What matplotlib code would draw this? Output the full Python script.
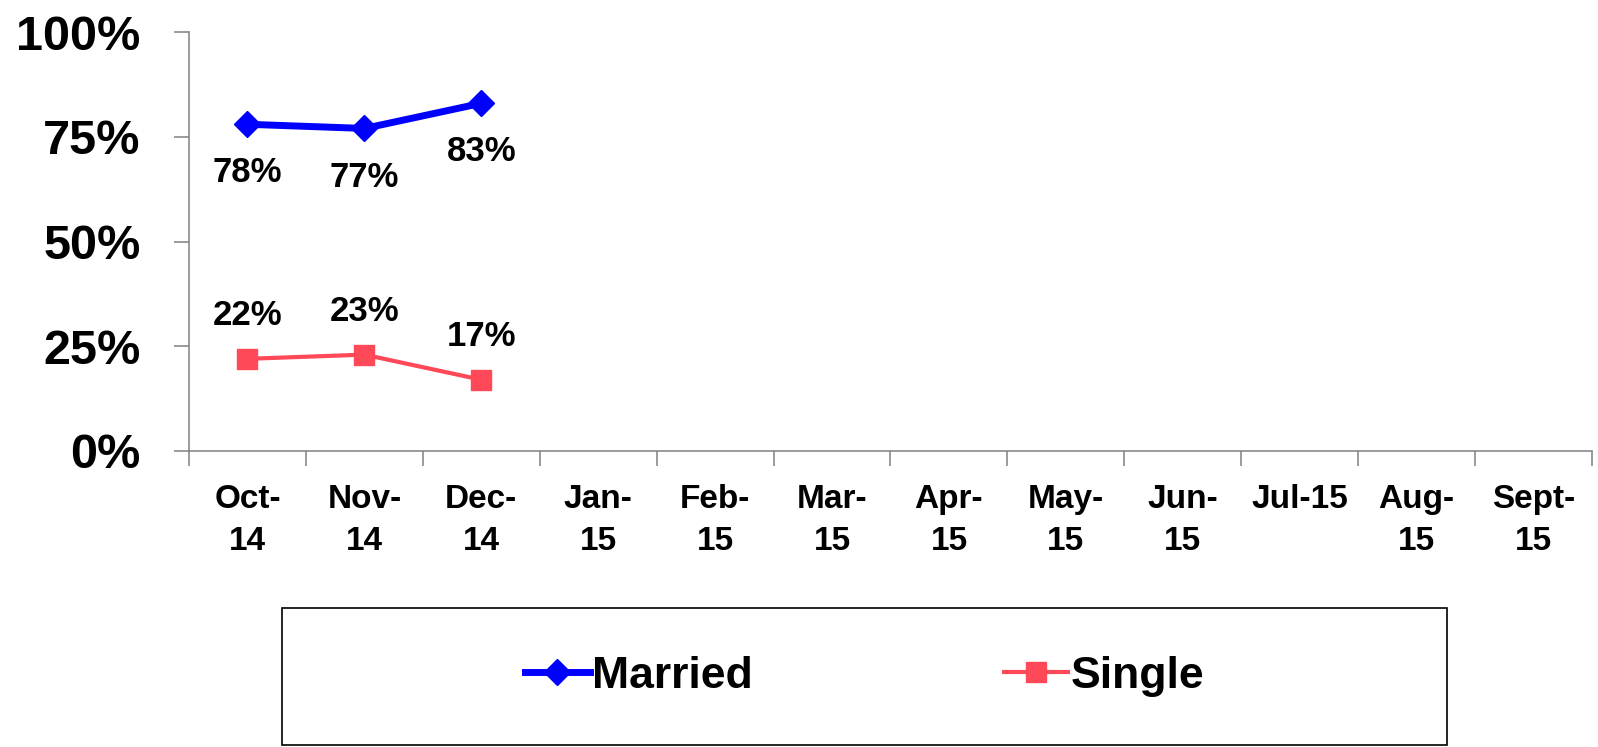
import matplotlib.pyplot as plt
from matplotlib.patches import Rectangle

months = ["Oct-\n14", "Nov-\n14", "Dec-\n14", "Jan-\n15", "Feb-\n15", "Mar-\n15",
          "Apr-\n15", "May-\n15", "Jun-\n15", "Jul-15", "Aug-\n15", "Sept-\n15"]
married = [78, 77, 83]
single = [22, 23, 17]
yticks = [0, 25, 50, 75, 100]

BLUE = "#0000FF"
RED = "#FF4858"
AXIS = "#808080"

plt.rcParams["font.family"] = ["Liberation Sans", "DejaVu Sans"]
plt.rcParams["font.weight"] = "bold"

fig = plt.figure(figsize=(15.98, 7.47), dpi=100)
ax = fig.add_axes([0.1183, 0.3963, 0.9962 - 0.1183, 0.957 - 0.3963])

x_m = list(range(len(married)))
x_s = list(range(len(single)))
ax.plot(x_m, married, color=BLUE, lw=5, marker="D", ms=13, label="Married")
ax.plot(x_s, single, color=RED, lw=3, marker="s", ms=15, label="Single")

for x, v in zip(x_m, married):
    ax.annotate(f"{v}%", xy=(x, v), xytext=(0, -35), textcoords="offset points",
                ha="center", va="center", fontsize=25, fontweight="bold")
for x, v in zip(x_s, single):
    ax.annotate(f"{v}%", xy=(x, v), xytext=(0, 31), textcoords="offset points",
                ha="center", va="center", fontsize=25, fontweight="bold")

ax.set_xlim(-0.5, len(months) - 0.5)
ax.set_ylim(0, 100)

ax.set_yticks(yticks)
ax.set_yticklabels([f"{t}%" for t in yticks], fontsize=35, fontweight="bold")
ax.tick_params(axis="y", length=11, width=1.1, color=AXIS, pad=24)

ax.set_xticks(range(len(months)))
ax.set_xticklabels(months, fontsize=24, fontweight="bold", linespacing=1.45)
ax.set_xticks([i - 0.5 for i in range(len(months) + 1)], minor=True)
ax.tick_params(axis="x", which="major", length=0, pad=24)
ax.tick_params(axis="x", which="minor", length=11, width=1.1, color=AXIS)

for side in ["top", "right"]:
    ax.spines[side].set_visible(False)
for side in ["left", "bottom"]:
    ax.spines[side].set_color(AXIS)
    ax.spines[side].set_linewidth(1.1)

# legend box
x0, x1 = 282 / 1598, 1447 / 1598
y0, y1 = 1 - 745 / 747, 1 - 608 / 747
fig.patches.append(Rectangle((x0, y0), x1 - x0, y1 - y0, transform=fig.transFigure,
                             fill=False, edgecolor="black", lw=1.2))
fig.legend(loc="center", bbox_to_anchor=((x0 + x1) / 2, (y0 + y1) / 2),
           ncol=2, frameon=False, prop={"weight": "bold", "size": 32},
           handlelength=1.45, handletextpad=0.05, columnspacing=5.65)

fig.savefig("out.png", dpi=100)
